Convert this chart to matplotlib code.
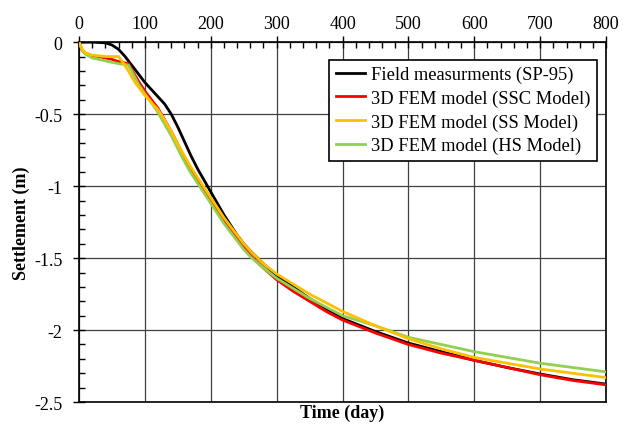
import matplotlib
matplotlib.use("Agg")
from matplotlib import pyplot as plt
from matplotlib import ticker as ticker

plt.rcParams['font.family'] = ['Liberation Serif', 'DejaVu Serif']
plt.rcParams['axes.unicode_minus'] = False

# Field measurements (SP-95)
field_day = [0, 20, 40, 50, 60, 70, 80, 90, 100, 110, 120, 130, 140, 150, 160, 170, 180,
             190, 200, 210, 220, 230, 240, 250, 260, 280, 300, 325, 350, 375, 400, 450,
             500, 550, 600, 650, 700, 750, 800]
field_set = [0, 0, -0.005, -0.02, -0.05, -0.10, -0.16, -0.22, -0.28, -0.33, -0.38, -0.43,
             -0.50, -0.59, -0.69, -0.79, -0.88, -0.96, -1.04, -1.12, -1.20, -1.27, -1.34,
             -1.40, -1.45, -1.54, -1.62, -1.70, -1.78, -1.85, -1.92, -2.01, -2.09, -2.15,
             -2.21, -2.26, -2.305, -2.345, -2.375]

# 3D FEM model (SSC Model)
ssc_day = [0, 5, 10, 20, 30, 40, 50, 60, 70, 75, 80, 90, 100, 110, 120, 130, 140, 150,
           160, 170, 180, 190, 200, 210, 220, 230, 240, 250, 260, 280, 300, 325, 350,
           375, 400, 450, 500, 550, 600, 650, 700, 750, 800]
ssc_set = [0, -0.06, -0.08, -0.095, -0.10, -0.11, -0.12, -0.135, -0.145, -0.15, -0.19,
           -0.27, -0.34, -0.40, -0.46, -0.54, -0.62, -0.71, -0.80, -0.88, -0.95, -1.02,
           -1.10, -1.17, -1.24, -1.31, -1.37, -1.43, -1.48, -1.57, -1.65, -1.73, -1.80,
           -1.87, -1.93, -2.02, -2.10, -2.16, -2.21, -2.26, -2.31, -2.35, -2.38]

# 3D FEM model (SS Model)
ss_day = [0, 5, 10, 20, 30, 40, 50, 60, 65, 75, 85, 95, 100, 110, 120, 130, 140, 150,
          160, 170, 180, 190, 200, 210, 220, 230, 240, 250, 260, 280, 300, 325, 350,
          375, 400, 450, 500, 550, 600, 650, 700, 750, 800]
ss_set = [0, -0.05, -0.075, -0.09, -0.095, -0.10, -0.10, -0.10, -0.13, -0.20, -0.28,
          -0.34, -0.37, -0.42, -0.47, -0.54, -0.62, -0.71, -0.79, -0.87, -0.94, -1.01,
          -1.08, -1.15, -1.22, -1.28, -1.34, -1.40, -1.45, -1.54, -1.61, -1.68, -1.75,
          -1.81, -1.87, -1.97, -2.06, -2.13, -2.19, -2.23, -2.27, -2.30, -2.33]

# 3D FEM model (HS Model)
hs_day = [0, 5, 10, 20, 30, 40, 50, 60, 70, 75, 80, 90, 100, 110, 120, 130, 140, 150,
          160, 170, 180, 190, 200, 210, 220, 230, 240, 250, 260, 280, 300, 325, 350,
          375, 400, 450, 500, 550, 600, 650, 700, 750, 800]
hs_set = [0, -0.06, -0.085, -0.11, -0.12, -0.13, -0.14, -0.15, -0.155, -0.16, -0.20,
          -0.29, -0.36, -0.42, -0.49, -0.57, -0.65, -0.74, -0.83, -0.91, -0.98, -1.05,
          -1.12, -1.19, -1.26, -1.32, -1.38, -1.44, -1.49, -1.57, -1.64, -1.71, -1.78,
          -1.84, -1.90, -1.97, -2.05, -2.10, -2.15, -2.19, -2.23, -2.26, -2.29]

fig = plt.figure(figsize=(6.32, 4.27), dpi=100)
ax = fig.add_axes([0.125, 0.056, 0.834, 0.843])

ax.plot(field_day, field_set, color='black', lw=2, label='Field measurments (SP-95)', zorder=3)
ax.plot(ssc_day, ssc_set, color='#FF0000', lw=2, label='3D FEM model (SSC Model)', zorder=4)
ax.plot(ss_day, ss_set, color='#FFC000', lw=2, label='3D FEM model (SS Model)', zorder=5)
ax.plot(hs_day, hs_set, color='#92D050', lw=2, label='3D FEM model (HS Model)', zorder=4)

ax.set_xlim(0, 800)
ax.set_ylim(-2.5, 0)
ax.xaxis.set_major_locator(ticker.MultipleLocator(100))
ax.xaxis.set_minor_locator(ticker.MultipleLocator(20))
ax.yaxis.set_major_locator(ticker.MultipleLocator(0.5))
ax.yaxis.set_minor_locator(ticker.MultipleLocator(0.1))
ax.yaxis.set_major_formatter(ticker.FuncFormatter(lambda v, p: f"{v:g}"))

ax.xaxis.tick_top()
ax.tick_params(axis='x', which='major', direction='inout', length=8, width=1, labelsize=13, pad=3)
ax.tick_params(axis='x', which='minor', direction='in', length=4, width=1)
ax.tick_params(axis='y', which='major', direction='inout', length=8, width=1, labelsize=13, pad=8)
ax.tick_params(axis='y', which='minor', direction='in', length=4, width=1)

ax.grid(True, which='major', color='#404040', lw=0.9)
for s in ax.spines.values():
    s.set_linewidth(1.2)

ax.set_xlabel('Time (day)', fontweight='bold', fontsize=13, labelpad=1)
ax.xaxis.set_label_position('bottom')
ax.set_ylabel('Settlement (m)', fontweight='bold', fontsize=13, labelpad=3)

leg = ax.legend(loc='upper right', bbox_to_anchor=(1.0, 0.977), fontsize=13.3,
                frameon=True, fancybox=False, edgecolor='black', framealpha=1,
                handlelength=1.6, handletextpad=0.3, borderpad=0.35, labelspacing=0.34)
leg.get_frame().set_linewidth(1.2)

fig.savefig('out.png', dpi=100)
